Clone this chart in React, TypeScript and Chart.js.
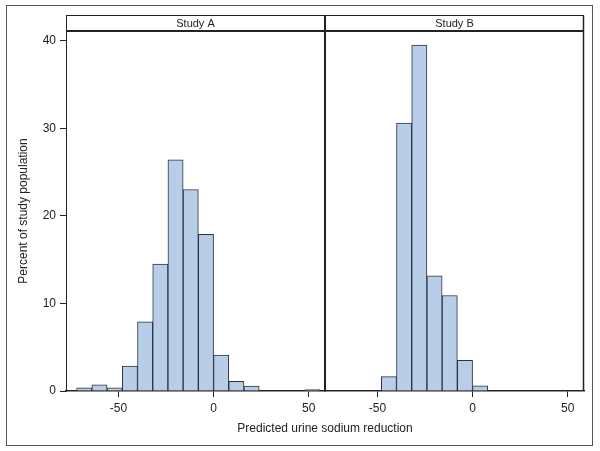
import React, { useEffect, useRef } from "react";
import { Chart, registerables } from "chart.js";

Chart.register(...registerables);

// ---- data ----
const panelLabels = ["Study A", "Study B"];
const binCenters = [-68, -60, -52, -44, -36, -28, -20, -12, -4, 4, 12, 20, 28, 36, 44, 52];
const studyAPercent = [0.35, 0.7, 0.35, 2.85, 7.9, 14.5, 26.4, 23.0, 17.9, 4.1, 1.1, 0.55, 0, 0, 0, 0.15];
const studyBPercent = [0, 0, 0, 1.65, 30.6, 39.5, 13.15, 10.9, 3.5, 0.6, 0, 0, 0, 0, 0, 0];
const xTickValues = [-50, 0, 50];
const yTickValues = [0, 10, 20, 30, 40];
const xTitle = "Predicted urine sodium reduction";
const yTitle = "Percent of study population";

const FONT = '"Liberation Sans", Arial, Helvetica, sans-serif';
const TEXT = "#222";
const FILL = "#b8cde8";
const EDGE = "#2a3340";

const panelPlugin = {
  id: "panelFrame",
  afterDraw(chart: any) {
    const { ctx, chartArea } = chart;
    const { left, right, top, bottom } = chartArea;
    const xA = chart.scales.xA;
    const mid = xA.right;
    const headTop = 15.5;
    ctx.save();
    // outer border
    ctx.strokeStyle = "#555";
    ctx.lineWidth = 1;
    ctx.strokeRect(6.5, 5.5, 586, 440);
    // header strip
    ctx.strokeStyle = "#222";
    ctx.lineWidth = 1;
    ctx.beginPath();
    ctx.moveTo(left, headTop);
    ctx.lineTo(right, headTop);
    ctx.moveTo(left + 0.5, headTop);
    ctx.lineTo(left + 0.5, bottom);
    ctx.stroke();
    ctx.lineWidth = 1.5;
    ctx.beginPath();
    ctx.moveTo(right - 0.5, headTop);
    ctx.lineTo(right - 0.5, bottom);
    ctx.stroke();
    ctx.lineWidth = 2;
    ctx.beginPath();
    ctx.moveTo(left, top);
    ctx.lineTo(right, top);
    ctx.moveTo(mid, headTop);
    ctx.lineTo(mid, bottom);
    ctx.stroke();
    // header labels
    ctx.fillStyle = TEXT;
    ctx.font = `11px ${FONT}`;
    ctx.textAlign = "center";
    ctx.textBaseline = "middle";
    ctx.fillText(panelLabels[0], (left + mid) / 2, (headTop + top) / 2 + 0.5);
    ctx.fillText(panelLabels[1], (mid + right) / 2, (headTop + top) / 2 + 0.5);
    // shared x title
    ctx.font = `12px ${FONT}`;
    ctx.fillText(xTitle, (left + right) / 2, 429);
    ctx.restore();
  },
};

function xScale(): any {
  return {
    type: "linear",
    position: "bottom",
    stack: "panels",
    stackWeight: 1,
    min: -77.6,
    max: 58.6,
    offset: false,
    afterBuildTicks: (s: any) => {
      s.ticks = xTickValues.map((v) => ({ value: v }));
    },
    afterFit: (s: any) => {
      s.height = 60;
    },
    grid: {
      offset: false,
      drawOnChartArea: false,
      drawTicks: true,
      tickLength: 6,
      tickWidth: 1,
      tickColor: "#222",
    },
    border: { display: true, color: "#222", width: 1.5 },
    ticks: {
      color: TEXT,
      padding: 4,
      maxRotation: 0,
      autoSkip: false,
      font: { family: FONT, size: 12 },
      callback: (v: any) => String(v),
    },
  };
}

export default function App() {
  const ref = useRef<HTMLCanvasElement | null>(null);
  useEffect(() => {
    if (!ref.current) return;
    const mk = (vals: number[]) => binCenters.map((x, i) => ({ x, y: vals[i] }));
    const common = {
      backgroundColor: FILL,
      borderColor: EDGE,
      borderWidth: 1,
      barPercentage: 1,
      categoryPercentage: 1,
      grouped: false,
    };
    const chart = new Chart(ref.current, {
      type: "bar",
      data: {
        datasets: [
          { label: panelLabels[0], data: mk(studyAPercent) as any, xAxisID: "xA", yAxisID: "y", ...common },
          { label: panelLabels[1], data: mk(studyBPercent) as any, xAxisID: "xB", yAxisID: "y", ...common },
        ],
      },
      options: {
        animation: false,
        responsive: false,
        devicePixelRatio: 1,
        layout: { padding: { left: 0, right: 16, top: 31, bottom: 0 } },
        plugins: {
          legend: { display: false },
          tooltip: { enabled: false },
          title: { display: false },
        },
        scales: {
          xA: xScale(),
          xB: xScale(),
          y: {
            type: "linear",
            position: "left",
            min: 0,
            max: 41.1,
            afterBuildTicks: (s: any) => {
              s.ticks = yTickValues.map((v) => ({ value: v }));
            },
            afterFit: (s: any) => {
              s.width = 66;
            },
            grid: {
              drawOnChartArea: false,
              drawTicks: true,
              tickLength: 6,
              tickColor: "#222",
            },
            border: { display: true, color: "#444", width: 1 },
            ticks: {
              color: TEXT,
              padding: 4,
              font: { family: FONT, size: 12 },
              callback: (v: any) => String(v),
            },
            title: {
              display: true,
              text: yTitle,
              color: TEXT,
              font: { family: FONT, size: 12 },
              padding: { top: 16, bottom: 0 },
            },
          },
        },
      } as any,
      plugins: [panelPlugin],
    });
    return () => chart.destroy();
  }, []);
  return (
    <div style={{ position: "fixed", left: 0, top: 0, width: 600, height: 451, background: "#fff" }}>
      <canvas ref={ref} width={600} height={451} style={{ display: "block" }} />
    </div>
  );
}
